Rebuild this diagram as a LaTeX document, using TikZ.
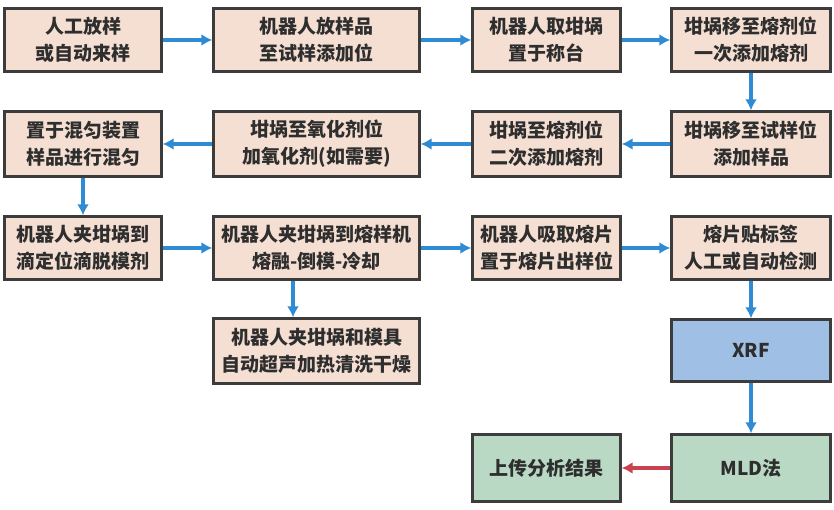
\documentclass[tikz,border=0pt]{standalone}
\usepackage{fontspec}
\newfontfamily\cjk{Noto Sans CJK SC}
\usetikzlibrary{arrows.meta}
\definecolor{peach}{HTML}{F5DFD3}
\definecolor{xrfblue}{HTML}{9FBFE4}
\definecolor{mintgreen}{HTML}{B9D9C5}
\definecolor{arrowblue}{HTML}{2F8BD3}
\definecolor{arrowred}{HTML}{C9424F}
\definecolor{boxline}{HTML}{3C3C3C}
\definecolor{txt}{HTML}{2E2E2E}
\tikzset{
  every node/.style={font=\cjk\bfseries\fontsize{19pt}{27pt}\selectfont, text=txt},
  pbox/.style={draw=boxline, line width=2.4pt, fill=peach, align=center, inner sep=0pt,
    minimum height=#1},
  pbox/.default=64pt,
  flow/.style={draw=arrowblue, line width=3.6pt, -{Latex[length=11pt,width=12pt]}},
  rflow/.style={draw=arrowred, line width=3.6pt, -{Latex[length=11pt,width=12pt]}},
}
\begin{document}
\begin{tikzpicture}[x=1pt,y=1pt]
\useasboundingbox (0,0) rectangle (834,510);
% row 1
\node[pbox=63pt, minimum width=157pt] (a1) at (83,470) {人工放样\\或自动来样};
\node[pbox=63pt, minimum width=206pt] (a2) at (316.5,470) {机器人放样品\\至试样添加位};
\node[pbox=63pt, minimum width=148pt] (a3) at (546.5,470) {机器人取坩埚\\置于称台};
\node[pbox=63pt, minimum width=159pt] (a4) at (751,470) {坩埚移至熔剂位\\一次添加熔剂};
% row 2
\node[pbox=65pt, minimum width=157pt] (b1) at (83,366) {置于混匀装置\\样品进行混匀};
\node[pbox=65pt, minimum width=206pt] (b2) at (316.5,366) {坩埚至氧化剂位\\加氧化剂(如需要)};
\node[pbox=65pt, minimum width=148pt] (b3) at (546.5,366) {坩埚至熔剂位\\二次添加熔剂};
\node[pbox=65pt, minimum width=159pt] (b4) at (751,366) {坩埚移至试样位\\添加样品};
% row 3
\node[pbox=63pt, minimum width=157pt] (c1) at (83,262) {机器人夹坩埚到\\滴定位滴脱模剂};
\node[pbox=63pt, minimum width=206pt] (c2) at (316.5,262) {机器人夹坩埚到熔样机\\熔融-倒模-冷却};
\node[pbox=63pt, minimum width=148pt] (c3) at (546.5,262) {机器人吸取熔片\\置于熔片出样位};
\node[pbox=63pt, minimum width=159pt] (c4) at (751,262) {熔片贴标签\\人工或自动检测};
% row 4
\node[pbox=65pt, minimum width=206pt] (d2) at (316.5,159) {机器人夹坩埚和模具\\自动超声加热清洗干燥};
\node[pbox=62pt, minimum width=159pt, fill=xrfblue] (d4) at (751,159.5) {XRF};
% row 5
\node[pbox=67pt, minimum width=148pt, fill=mintgreen] (e3) at (546.5,42) {上传分析结果};
\node[pbox=67pt, minimum width=159pt, fill=mintgreen] (e4) at (751,42) {MLD法};
% arrows
\draw[flow] (a1) -- (a2);
\draw[flow] (a2) -- (a3);
\draw[flow] (a3) -- (a4);
\draw[flow] (a4) -- (b4);
\draw[flow] (b4) -- (b3);
\draw[flow] (b3) -- (b2);
\draw[flow] (b2) -- (b1);
\draw[flow] (b1) -- (c1);
\draw[flow] (c1) -- (c2);
\draw[flow] (c2) -- (c3);
\draw[flow] (c3) -- (c4);
\draw[flow] ([xshift=-23.5pt]c2.south) -- ([xshift=-23.5pt]d2.north);
\draw[flow] (c4) -- (d4);
\draw[flow] (d4) -- (e4);
\draw[rflow] (e4) -- (e3);
\end{tikzpicture}
\end{document}
